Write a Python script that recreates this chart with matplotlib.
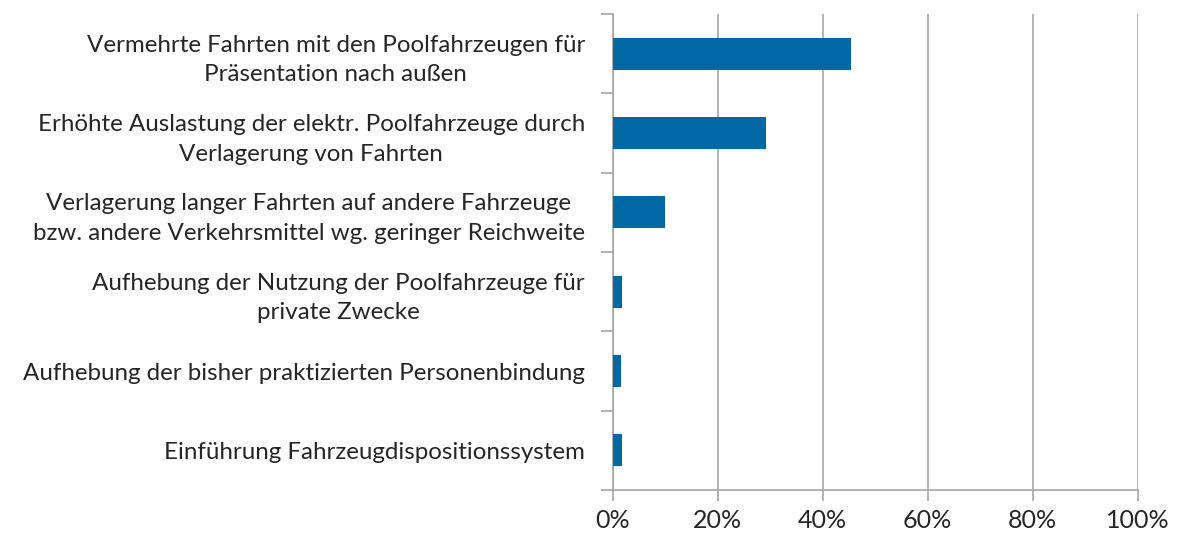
import matplotlib
matplotlib.use("Agg")
import matplotlib.pyplot as plt
from matplotlib.ticker import PercentFormatter

plt.rcParams['font.family'] = ['Lato', 'DejaVu Sans']

categories = [
    "Vermehrte Fahrten mit den Poolfahrzeugen für\nPräsentation nach außen",
    "Erhöhte Auslastung der elektr. Poolfahrzeuge durch\nVerlagerung von Fahrten",
    "Verlagerung langer Fahrten auf andere Fahrzeuge\nbzw. andere Verkehrsmittel wg. geringer Reichweite",
    "Aufhebung der Nutzung der Poolfahrzeuge für\nprivate Zwecke",
    "Aufhebung der bisher praktizierten Personenbindung",
    "Einführung Fahrzeugdispositionssystem",
]
values = [45.3, 29.1, 9.9, 1.8, 1.6, 1.8]
xticks = [0, 20, 40, 60, 80, 100]

fig = plt.figure(figsize=(11.79, 5.35), dpi=100)
ax = fig.add_axes([0.5197, 0.0841, 0.4453, 0.8897])

pos = list(range(len(categories)))
ax.barh(pos, values, height=0.4, color='#0069a5', zorder=3)
ax.set_ylim(len(categories) - 0.5, -0.5)
ax.set_xlim(0, 100)

ax.set_xticks(xticks)
ax.xaxis.set_major_formatter(PercentFormatter(decimals=0))
ax.grid(axis='x', color='#a6a6a6', linewidth=1.2, zorder=0)

# category ticks sit between the bars
ax.set_yticks([p - 0.5 for p in pos] + [len(categories) - 0.5])
ax.set_yticklabels([])
ax.set_yticks(pos, minor=True)
ax.set_yticklabels(categories, minor=True, fontsize=17.4, color='#262626',
                   ha='right', multialignment='center', linespacing=1.5)
ax.tick_params(axis='y', which='minor', length=0, pad=20)
ax.tick_params(axis='y', which='major', length=9, color='#a6a6a6', width=1.2)
ax.tick_params(axis='x', length=8, color='#a6a6a6', width=1.2, labelsize=18,
               labelcolor='#262626', pad=6)

for side in ['top', 'right']:
    ax.spines[side].set_visible(False)
for side in ['left', 'bottom']:
    ax.spines[side].set_color('#a6a6a6')
    ax.spines[side].set_linewidth(1.2)

fig.savefig("out.png", dpi=100)
